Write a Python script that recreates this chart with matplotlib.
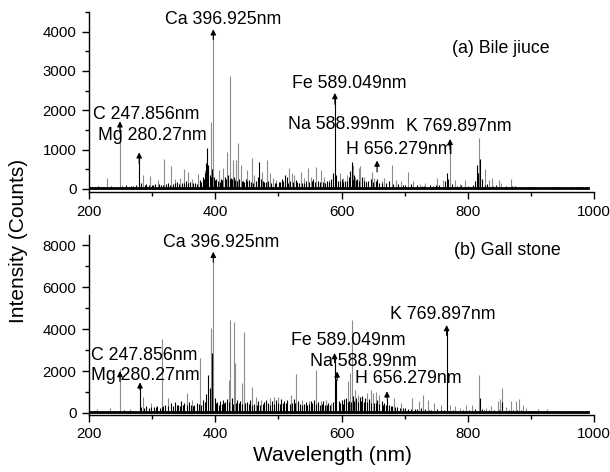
import matplotlib
matplotlib.use("Agg")
import matplotlib.pyplot as plt
from matplotlib.ticker import MultipleLocator

plt.rcParams["font.family"] = ["Liberation Sans", "DejaVu Sans"]

# ---- panel (a) bile juice: isolated lines (render thin / grey)
a_grey_wl = [229, 249, 286, 297, 309, 319, 330, 336, 344, 350, 357, 363, 373, 383,
             393.4, 396.9, 406, 413, 418, 422.7, 428.6, 433, 436.5, 441, 451, 457.7,
             461, 474, 482.5, 487, 491, 497, 517, 521, 525, 536, 540, 547, 551, 559.6,
             567, 573, 580, 597.6, 603, 608, 618, 622, 627.7, 630, 635, 639, 648.8,
             652, 664, 668, 679.5, 686, 695, 704.8, 714, 725, 733, 750.8, 760, 772,
             780, 787, 795.6, 818, 827, 834, 839, 849, 853, 868]
a_grey_int = [280, 1670, 350, 330, 230, 760, 580, 250, 280, 500, 420, 250, 390, 470,
              1710, 4000, 480, 530, 950, 2870, 740, 740, 1160, 610, 480, 790,
              350, 430, 740, 400, 270, 220, 530, 410, 350, 430, 280, 530, 300, 550,
              470, 300, 220, 400, 270, 350, 600, 300, 530, 580, 300, 190, 430,
              280, 190, 270, 600, 220, 190, 430, 190, 130, 150, 270, 220, 1200,
              220, 130, 220, 1290, 500, 220, 270, 220, 150, 240]
# dense / dark lines
a_black_wl = [205, 215, 222, 235, 245, 258, 266, 275, 279.5, 283, 291, 300, 305, 314,
              325, 333, 340, 347, 354, 360, 368, 376, 380, 384, 386, 387, 389, 391,
              395, 398, 401, 404, 409, 415, 420, 425, 430, 438, 444, 448, 454, 464,
              467, 469, 472, 478, 484, 494, 501, 505, 510.5, 513, 519, 528, 532, 544,
              555, 562, 570, 577, 583, 586, 589.5, 592, 595, 600, 606, 612, 614, 616,
              620, 625, 632, 642, 646, 655, 656.3, 660, 671, 676, 690, 700, 710, 720,
              730, 740, 745, 755, 764, 766.5, 769, 775, 790, 800, 808, 812, 814, 816,
              820, 823, 830, 845, 860, 875, 890, 905, 920, 935, 950, 965, 980]
a_black_int = [60, 80, 50, 70, 60, 90, 70, 100, 830, 150, 120, 90, 130, 100,
               150, 120, 180, 150, 200, 170, 150, 220, 300, 400, 650, 1050, 600, 350,
               500, 300, 250, 200, 250, 300, 350, 280, 300, 250, 200, 250, 220, 200,
               300, 690, 250, 180, 200, 150, 180, 250, 350, 300, 200, 220, 150, 200,
               250, 200, 180, 200, 250, 400, 2400, 350, 200, 250, 200, 300, 450, 690,
               350, 250, 300, 200, 250, 200, 250, 150, 150, 200, 120, 100, 120, 90,
               80, 100, 80, 100, 200, 400, 250, 120, 90, 80, 100, 200, 600, 400,
               770, 250, 120, 100, 80, 70, 60, 50, 60, 50, 60, 50, 50]
# low-level grass between the lines
a_fine_wl = [210, 227, 252, 270, 288, 295, 302, 311, 318, 322, 328, 337, 343, 351,
             357, 364, 371, 378, 382, 393, 400, 407, 411, 417, 423, 427, 432, 435,
             442, 446, 451, 457, 460, 476, 481, 489, 497, 503, 508, 516, 523, 530,
             537, 541, 549, 553, 558, 566, 574, 580, 598, 603, 609, 618, 623, 628,
             635, 639, 650, 664, 681, 697, 727, 750, 783, 827, 840, 870, 900, 940, 975]
a_fine_int = [50, 60, 70, 80, 110, 90, 100, 120, 90, 130, 110, 140, 120, 160,
              140, 150, 130, 170, 250, 300, 220, 180, 230, 260, 250, 240, 230, 200,
              210, 180, 200, 170, 160, 190, 170, 160, 150, 170, 200, 160, 180, 170,
              150, 160, 170, 190, 180, 170, 160, 180, 200, 180, 190, 230, 220, 200,
              190, 170, 180, 140, 130, 110, 80, 90, 80, 110, 80, 70, 60, 50, 50]

# ---- panel (b) gall stone
b_grey_wl = [213, 233, 249, 265, 286, 299, 315, 325.7, 355, 363.6, 375.8, 393.3, 396.9,
             421, 423.4, 429.7, 431.8, 443, 446, 459, 464, 473, 486, 493, 500, 520,
             527.8, 538, 548, 559.7, 567, 575, 584, 610, 613, 616, 621, 625.6, 641,
             646, 650, 654, 660, 683, 694, 712, 722, 729.5, 737, 747, 758, 772, 780,
             787, 797, 806, 817.8, 829, 837, 848, 851, 853.7, 860, 869, 877, 881, 887,
             893, 912, 926]
b_grey_int = [200, 250, 2100, 200, 780, 450, 3550, 710, 950, 630, 2600, 4050, 7550,
              1570, 4430, 4350, 2380, 1430, 3870, 1250, 780, 620, 700, 780, 780, 860,
              1860, 620, 550, 2050, 550, 620, 470, 1500, 1900, 4430, 1100, 840, 930,
              1090, 930, 1010, 860, 700, 480, 700, 550, 860, 620, 480, 400, 400, 320,
              230, 400, 400, 1810, 240, 320, 560, 650, 1175, 270, 560, 560, 650, 400,
              230, 190, 170]
b_black_wl = [205, 220, 240, 255, 270, 280.8, 283, 290, 295, 303, 308, 312, 320, 330,
              336, 341, 346, 351, 358, 367, 371, 380, 385, 389, 391, 395, 399, 403,
              408, 412, 416, 419, 426, 435, 439, 450, 455, 468, 477, 481, 490, 496,
              504, 509, 514, 524, 531, 543, 552, 556, 563, 571, 579, 586, 589, 592,
              596, 600, 604, 607, 618, 623, 629, 633, 637, 644, 657, 664, 668, 672,
              676, 680, 688, 700, 706, 716, 726, 733, 742, 752, 762, 766.5, 776, 792,
              802, 812, 819, 822, 834, 842, 855, 865, 872, 884, 898, 905, 920, 935,
              950, 970, 985]
b_black_int = [80, 100, 90, 120, 100, 1400, 300, 350, 250, 300, 350, 250, 400, 450,
               500, 400, 550, 450, 500, 400, 450, 600, 900, 1800, 1200, 2850, 700, 500,
               550, 600, 500, 650, 700, 600, 550, 500, 600, 550, 500, 600, 550, 600,
               650, 550, 600, 650, 550, 500, 550, 600, 500, 550, 450, 500, 2700, 1600,
               550, 600, 650, 700, 800, 700, 750, 800, 700, 650, 600, 550, 450, 700,
               400, 350, 300, 250, 200, 200, 250, 200, 150, 200, 150, 4000, 150, 120,
               150, 200, 700, 200, 150, 120, 500, 150, 120, 150, 100, 80, 80, 70,
               60, 60, 50]
b_fine_wl = [230, 262, 287, 299, 306, 315, 318, 325, 333, 339, 344, 349, 355, 362,
             365, 374, 377, 383, 401, 406, 410, 414, 422, 428, 433, 437, 442, 447,
             453, 458, 462, 466, 471, 475, 484, 487, 493, 499, 502, 507, 512, 518,
             522, 527, 534, 537, 540, 546, 549, 554, 560, 566, 569, 574, 577, 582,
             598, 602, 610, 612, 615, 620, 626, 631, 635, 640, 647, 652, 655, 660,
             666, 670, 678, 684, 692, 697, 710, 720, 738, 757, 785, 826, 849, 860,
             878, 890]
b_fine_int = [90, 110, 250, 300, 260, 280, 350, 330, 350, 380, 330, 360, 400, 380,
              350, 420, 380, 500, 450, 400, 420, 450, 500, 430, 450, 470, 420, 450,
              430, 400, 420, 380, 400, 420, 450, 400, 430, 450, 420, 450, 470, 430,
              450, 480, 420, 400, 430, 400, 420, 450, 430, 400, 420, 380, 400, 380,
              450, 420, 500, 550, 520, 550, 500, 550, 520, 500, 480, 450, 470, 420,
              380, 400, 330, 300, 250, 220, 180, 170, 140, 150, 110, 140, 150, 110,
              120, 90]

xticks = [200, 400, 600, 800, 1000]
a_yticks = [0, 1000, 2000, 3000, 4000]
b_yticks = [0, 2000, 4000, 6000, 8000]

# label, wavelength, arrow tip, arrow tail (y in counts), text left x, text y
a_labels = [
    ("C 247.856nm", 249, 1720, 1450, 206, 1880),
    ("Mg 280.27nm", 279.5, 930, 650, 214, 1350),
    ("Ca 396.925nm", 396.9, 4060, 3800, 320, 4300),
    ("Fe 589.049nm", 589.5, 2440, 2150, 521, 2680),
    ("Na 588.99nm", None, None, None, 515, 1625),
    ("K 769.897nm", 772, 1270, 1000, 702, 1590),
    ("H 656.279nm", 656.3, 720, 430, 607, 990),
]
b_labels = [
    ("C 247.856nm", 249, 2000, 1500, 203, 2760),
    ("Mg 280.27nm", 280.8, 1460, 1100, 203, 1810),
    ("Ca 396.925nm", 396.9, 7700, 7200, 317, 8150),
    ("Fe 589.049nm", 589, 2860, 2400, 520, 3475),
    ("Na 588.99nm", 593, 1980, 1550, 550, 2440),
    ("K 769.897nm", 766.5, 4200, 3700, 677, 4710),
    ("H 656.279nm", 672, 1030, 700, 621, 1660),
]

fig = plt.figure(figsize=(6.1, 4.72), dpi=100)
ax_a = fig.add_axes([0.1459, 0.5932, 0.8279, 0.3814])
ax_b = fig.add_axes([0.1459, 0.1208, 0.8279, 0.3813])

panels = [
    (ax_a, a_grey_wl, a_grey_int, a_black_wl + a_fine_wl, a_black_int + a_fine_int,
     a_labels, (-80, 4500), a_yticks, 500, "(a) Bile jiuce", (775, 3560)),
    (ax_b, b_grey_wl, b_grey_int, b_black_wl + b_fine_wl, b_black_int + b_fine_int,
     b_labels, (-100, 8500), b_yticks, 1000, "(b) Gall stone", (778, 7760)),
]

for ax, gw, gi, bw, bi, labels, ylim, yt, yminor, title, tpos in panels:
    # flat noisy baseline
    ax.plot([200, 990], [30, 30], color="black", lw=2.0, zorder=2)
    ax.vlines(gw, 0, gi, color="#8c8c8c", lw=0.8, zorder=1)
    ax.vlines(bw, 0, bi, color="black", lw=0.8, zorder=2)
    for text, wl, tip, tail, tx, ty in labels:
        if wl is not None:
            ax.annotate("", xy=(wl, tip), xytext=(wl, tail),
                        arrowprops=dict(arrowstyle="-|>", color="black", lw=0.8,
                                        mutation_scale=8, shrinkA=0, shrinkB=0),
                        zorder=4)
        ax.text(tx, ty, text, fontsize=12.8, ha="left", va="center", zorder=5)
    ax.text(tpos[0], tpos[1], title, fontsize=12.8, ha="left", va="center")

    ax.set_xlim(200, 1000)
    ax.set_ylim(*ylim)
    ax.set_xticks(xticks)
    ax.set_yticks(yt)
    ax.xaxis.set_minor_locator(MultipleLocator(100))
    ax.yaxis.set_minor_locator(MultipleLocator(yminor))
    ax.spines["top"].set_visible(False)
    ax.spines["right"].set_visible(False)
    for s in ("left", "bottom"):
        ax.spines[s].set_linewidth(1.0)
    ax.tick_params(which="major", direction="out", length=5, width=1.0,
                   labelsize=10.8, pad=4)
    ax.tick_params(which="minor", direction="out", length=3, width=1.0)

fig.text(0.545, 0.036, "Wavelength (nm)", fontsize=15, ha="center", va="center")
fig.text(0.03, 0.49, "Intensity (Counts)", rotation=90, fontsize=15,
         ha="center", va="center")

fig.savefig("out.png", dpi=100)
